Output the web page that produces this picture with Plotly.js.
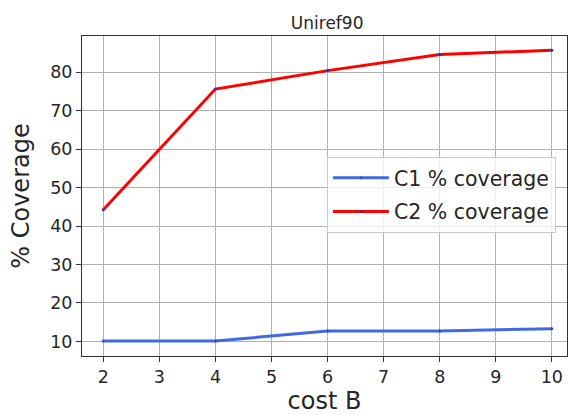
<!DOCTYPE html>
<html>
<head>
<meta charset="utf-8">
<script src="https://cdn.plot.ly/plotly-3.0.1.min.js"></script>
<style>html,body{margin:0;padding:0;background:#fff;}#chart{width:568px;height:415px;}</style>
</head>
<body>
<div id="chart"></div>
<script>
const costB = [2, 4, 6, 8, 10];
const c1Coverage = [10.1, 10.1, 12.7, 12.7, 13.3];
const c2Coverage = [44.2, 75.6, 80.4, 84.6, 85.7];
const seriesNames = ['C1 % coverage', 'C2 % coverage'];
const xTicks = [2, 3, 4, 5, 6, 7, 8, 9, 10];
const yTicks = [10, 20, 30, 40, 50, 60, 70, 80];

const font = 'DejaVu Sans, sans-serif';
const traces = [
  {x: costB, y: c1Coverage, name: seriesNames[0], mode: 'lines+markers', legendgroup: 'a',
   line: {color: '#4169e1', width: 3}, marker: {color: '#2a4fd6', size: 3}},
  {x: costB, y: c2Coverage, name: seriesNames[1], mode: 'lines+markers', legendgroup: 'b',
   line: {color: '#ff0000', width: 3}, marker: {color: '#3030c0', size: 3}}
];
const axisCommon = {
  showgrid: true, gridcolor: '#b0b0b0', gridwidth: 1,
  showline: true, linecolor: '#333', linewidth: 1, mirror: true,
  ticks: 'outside', ticklen: 5, tickcolor: '#333', zeroline: false,
  tickfont: {family: font, size: 17.5, color: '#262626'}
};
const layout = {
  width: 568, height: 415,
  margin: {l: 82, r: 1, t: 36, b: 59},
  paper_bgcolor: '#fff', plot_bgcolor: '#fff',
  title: {text: 'Uniref90', font: {family: font, size: 17, color: '#262626'}, x: 0.576, xanchor: 'center', y: 0.945, yanchor: 'middle'},
  xaxis: Object.assign({}, axisCommon, {range: [1.62, 10.27], tickvals: xTicks,
    title: {text: 'cost B', font: {family: font, size: 24, color: '#262626'}, standoff: 7}}),
  yaxis: Object.assign({}, axisCommon, {range: [6.2, 89.4], tickvals: yTicks,
    title: {text: '% Coverage', font: {family: font, size: 24, color: '#262626'}, standoff: 13}}),
  showlegend: true,
  legend: {x: 0.505, y: 0.622, xanchor: 'left', yanchor: 'top',
    bgcolor: 'rgba(255,255,255,0.8)', bordercolor: '#cccccc', borderwidth: 1,
    font: {family: font, size: 20.5, color: '#262626'}, tracegroupgap: 4, itemwidth: 56}
};
Plotly.newPlot('chart', traces, layout, {displayModeBar: false, staticPlot: true});
</script>
</body>
</html>
